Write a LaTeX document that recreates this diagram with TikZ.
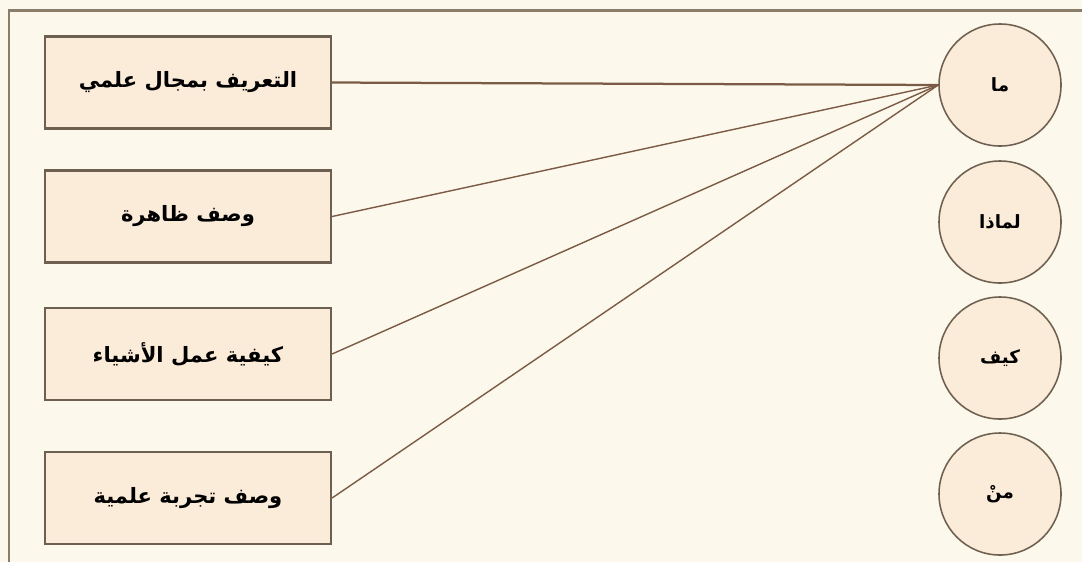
\documentclass[tikz,border=0pt]{standalone}
\usepackage{fontspec}
\newfontfamily\arabicfont[Script=Arabic]{DejaVu Sans}
\TeXXeTstate=1
\definecolor{paper}{HTML}{FCF8EC}
\definecolor{peach}{HTML}{FBEBD9}
\definecolor{edge}{HTML}{6E6050}
\definecolor{wire}{HTML}{7B5B45}
\definecolor{frame}{HTML}{8A7D6A}
\tikzset{
  topic/.style={draw=edge,line width=1.5pt,fill=peach,minimum width=7.15cm,minimum height=2.3cm,
    font=\arabicfont\bfseries\fontsize{15}{18}\selectfont},
  question/.style={circle,draw=edge,line width=1.1pt,fill=peach,minimum size=3.05cm,
    font=\arabicfont\bfseries\fontsize{13}{16}\selectfont},
  link/.style={wire,line width=1pt}
}
\begin{document}
\begin{tikzpicture}[x=0.025cm,y=-0.025cm]
\useasboundingbox[fill=paper] (0,0) rectangle (1082,562);
\draw[frame,line width=1.8pt] (9,562) -- (9,10.5) -- (1082,10.5);
\foreach \n/\y/\t in {1/82.5/التعريف بمجال علمي, 2/216.5/وصف ظاهرة, 3/354/كيفية عمل الأشياء, 4/498/وصف تجربة علمية}
  \node[topic] (t\n) at (188,\y) {\beginR\t\endR};
\foreach \n/\y/\t in {1/85/ما, 2/222/لماذا, 3/358/كيف, 4/494/منْ}
  \node[question] (q\n) at (1000,\y) {\beginR\t\endR};
\draw[link,line width=1.6pt] (t1.east) -- (q1.west);
\foreach \n in {2,3,4}
  \draw[link] (t\n.east) -- (q1.west);
\end{tikzpicture}
\end{document}
